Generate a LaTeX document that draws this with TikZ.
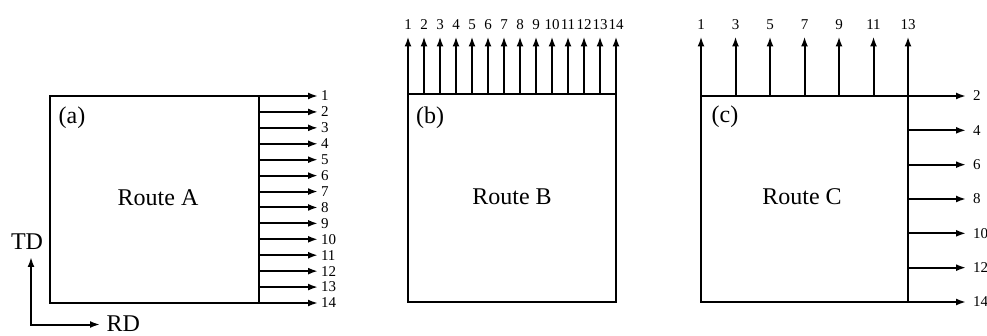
\documentclass[tikz,border=0pt]{standalone}
\usepackage{fontspec}
\setmainfont{Liberation Serif}
\usetikzlibrary{arrows.meta}
\begin{document}
\begin{tikzpicture}[x=1pt,y=-1pt,
  wire/.style={line width=2pt},
  arr/.style={wire,-{Latex[length=10pt,width=7pt]}},
  routebox/.style={draw,line width=2pt,inner sep=0pt},
  big/.style={font=\fontsize{24}{24}\selectfont,inner sep=0pt},
  num/.style={font=\fontsize{15}{15}\selectfont,inner sep=0pt},
  numr/.style={num,anchor=west,outer xsep=3pt},
  numrr/.style={num,anchor=west,outer xsep=7pt},
  numu/.style={num,anchor=south,outer ysep=7pt},
]
\useasboundingbox (0,0) rectangle (987,336);

% ---- Route A: outputs leave through the right side
\node[routebox,minimum width=209pt,minimum height=207pt] (boxA) at (154.5,199.5) {};
\node[big] (nameA) at (158,198) {Route A};
\node[big] (tagA) at (72,118) {(a)};
\foreach \i in {1,...,14} {
  \pgfmathsetmacro\yy{96+(\i-1)*207/13}
  \coordinate (sa\i) at (259,\yy);
  \node[numr] (la\i) at (318,\yy) {\i};
  \draw[arr] (sa\i) -- (la\i.west);
}

% ---- Route B: outputs leave through the top side
\node[routebox,minimum width=208pt,minimum height=208pt] (boxB) at (512,198) {};
\node[big] (nameB) at (512,197) {Route B};
\node[big] (tagB) at (430,118) {(b)};
\foreach \i in {1,...,14} {
  \pgfmathsetmacro\xx{408+(\i-1)*208/13}
  \coordinate (sb\i) at (\xx,94);
  \node[numu] (lb\i) at (\xx,36.5) {\i};
  \draw[arr] (sb\i) -- (lb\i.south);
}

% ---- Route C: odd outputs on top, even outputs on the right
\node[routebox,minimum width=207pt,minimum height=206pt] (boxC) at (804.5,199) {};
\node[big] (nameC) at (802,197) {Route C};
\node[big] (tagC) at (725,117) {(c)};
\foreach \k in {0,...,6} {
  \pgfmathsetmacro\xx{701+\k*207/6}
  \pgfmathtruncatemacro\odd{2*\k+1}
  \coordinate (sc\odd) at (\xx,96);
  \node[numu] (lc\odd) at (\xx,36.5) {\odd};
  \draw[arr] (sc\odd) -- (lc\odd.south);
}
\foreach \k in {0,...,6} {
  \pgfmathsetmacro\yy{96+\k*206/6}
  \pgfmathtruncatemacro\even{2*\k+2}
  \coordinate (sc\even) at (908,\yy);
  \node[numrr] (lc\even) at (966,\yy) {\even};
  \draw[arr] (sc\even) -- (lc\even.west);
}

% ---- axis key
\coordinate (org) at (31,324.5);
\node[big] (TD) at (27,242) {TD};
\node[big,anchor=west,outer xsep=6.5pt] (RD) at (100,323.5) {RD};
\draw[wire,{Latex[length=10pt,width=7pt]}-{Latex[length=10pt,width=7pt]}]
  (org |- 0,257) -- (org) -- (org -| RD.west);
\end{tikzpicture}
\end{document}
